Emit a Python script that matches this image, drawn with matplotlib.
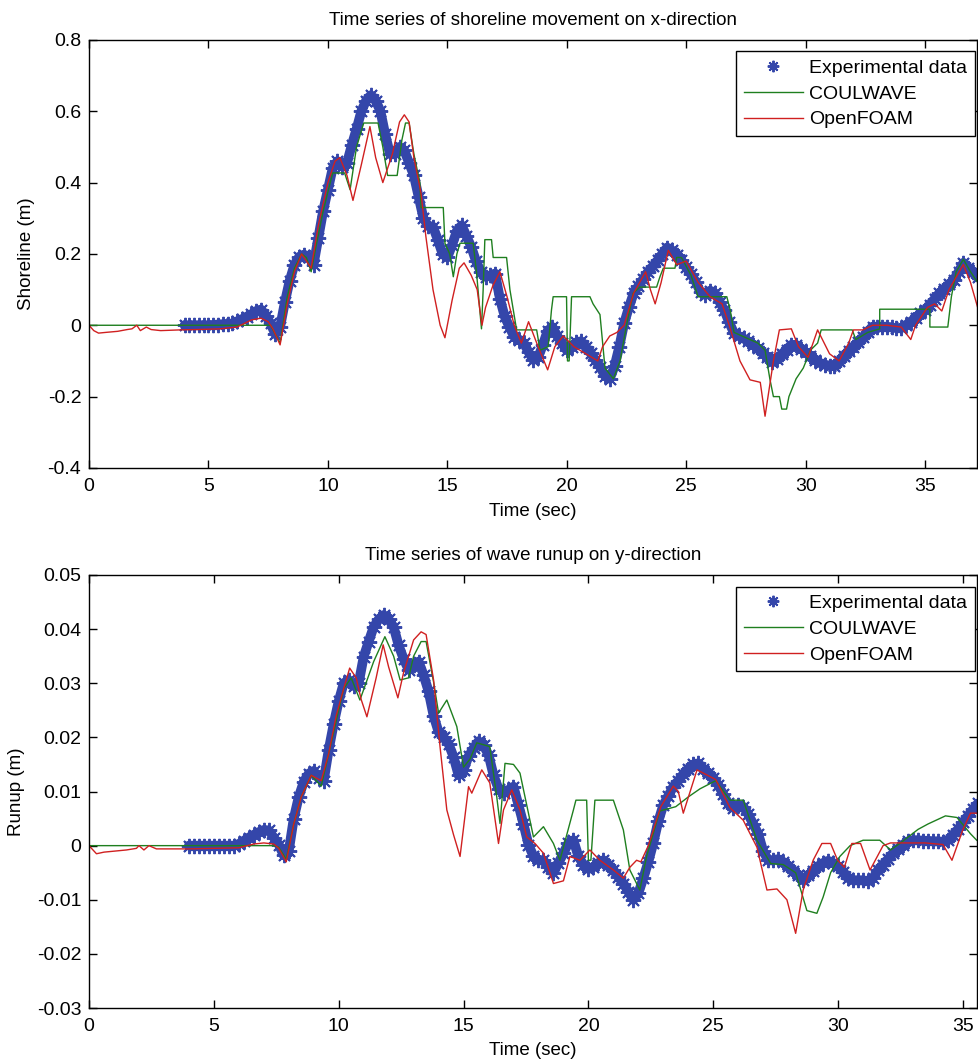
import numpy as np
import matplotlib
matplotlib.use('Agg')
import matplotlib.pyplot as plt

plt.rcParams['font.family'] = ['Liberation Sans', 'DejaVu Sans']

# ---------------- shoreline (x-direction) ----------------
exp_t_x = np.round(np.arange(4.0, 37.21, 0.2), 2)
exp_x = [
    0.000, 0.000, 0.000, 0.000, 0.000, 0.000, 0.001, 0.002, 0.003, 0.004,
    0.005, 0.011, 0.017, 0.024, 0.031, 0.040, 0.044, 0.027, 0.005, -0.025,
    -0.005, 0.065, 0.125, 0.170, 0.192, 0.198, 0.190, 0.170, 0.245, 0.320,
    0.380, 0.440, 0.460, 0.445, 0.455, 0.505, 0.550, 0.600, 0.630, 0.645,
    0.630, 0.600, 0.535, 0.480, 0.480, 0.500, 0.490, 0.455, 0.420, 0.360,
    0.300, 0.278, 0.276, 0.240, 0.200, 0.190, 0.225, 0.265, 0.280, 0.250,
    0.220, 0.180, 0.150, 0.136, 0.140, 0.145, 0.075, 0.025, -0.005, -0.032,
    -0.040, -0.050, -0.075, -0.097, -0.090, -0.055, -0.015, -0.005, -0.030, -0.050,
    -0.070, -0.060, -0.048, -0.045, -0.062, -0.078, -0.098, -0.117, -0.142, -0.150,
    -0.115, -0.060, 0.005, 0.050, 0.090, 0.110, 0.130, 0.150, 0.165, 0.182,
    0.200, 0.218, 0.210, 0.197, 0.182, 0.162, 0.143, 0.122, 0.092, 0.085,
    0.097, 0.090, 0.065, 0.042, 0.008, -0.022, -0.030, -0.037, -0.045, -0.055,
    -0.065, -0.077, -0.090, -0.104, -0.095, -0.081, -0.068, -0.055, -0.055, -0.066,
    -0.076, -0.085, -0.096, -0.106, -0.110, -0.114, -0.115, -0.100, -0.085, -0.072,
    -0.060, -0.047, -0.033, -0.018, -0.004, -0.004, -0.004, -0.004, -0.006, -0.008,
    -0.008, 0.001, 0.010, 0.021, 0.033, 0.044, 0.058, 0.074, 0.090, 0.102,
    0.115, 0.127, 0.150, 0.175, 0.160, 0.148, 0.136,
]

coul_t_x = [0, 7.4, 7.6, 8.0, 8.3, 8.6, 8.9, 9.1, 9.3, 9.5, 9.8, 10.2, 10.7, 10.93,
            11.2, 11.5, 12.1, 12.3, 12.5, 12.9, 13.1, 13.25, 13.4, 13.6, 13.85, 13.9,
            14.83, 14.9, 15.1, 15.25, 15.4, 15.53, 16.08, 16.22, 16.35, 16.43, 16.5,
            16.57, 16.85, 16.92, 17.48, 17.62, 17.9, 18.74, 18.88, 19.22, 19.36, 19.43,
            19.99, 20.03, 20.1, 20.2, 20.97, 21.1, 21.39, 21.6, 21.95, 22.23, 22.5,
            22.78, 23.06, 23.76, 23.9, 24.04, 24.53, 24.6, 24.8, 25.2, 25.5, 26.7,
            26.85, 27.0, 27.5, 28.0, 28.3, 28.5, 28.65, 28.9, 29.0, 29.2, 29.3, 29.6,
            29.9, 30.2, 30.5, 30.65, 31.95, 32.1, 32.6, 33.1, 33.1, 35.2, 35.2, 35.95,
            36.1, 36.3, 36.6, 36.9, 37.2]
coul_x = [0, 0, 0, -0.05, 0.08, 0.16, 0.2, 0.19, 0.15, 0.22, 0.32, 0.427, 0.427, 0.38,
          0.5, 0.567, 0.567, 0.5, 0.42, 0.42, 0.52, 0.567, 0.567, 0.48, 0.4, 0.33,
          0.33, 0.23, 0.2, 0.136, 0.2, 0.23, 0.23, 0.15, 0.05, -0.01, 0.1,
          0.24, 0.24, 0.19, 0.19, 0.1, -0.013, -0.013, -0.07, -0.06, 0.043, 0.08,
          0.08, -0.1, -0.1, 0.08, 0.08, 0.06, 0.03, -0.12, -0.15, -0.1, 0.0,
          0.09, 0.107, 0.107, 0.136, 0.16, 0.16, 0.19, 0.19, 0.14, 0.08, 0.08,
          0.04, -0.02, -0.035, -0.05, -0.07, -0.15, -0.2, -0.2, -0.235, -0.235, -0.2, -0.15,
          -0.12, -0.07, -0.05, -0.013, -0.013, -0.04, -0.02, -0.01, 0.045, 0.045, -0.005, -0.005,
          0.08, 0.15, 0.185, 0.15, 0.12]

foam_t_x = [0, 0.2, 0.4, 0.7, 1.2, 1.6, 1.8, 2.0, 2.15, 2.4, 2.6, 3.0, 3.8, 4.5, 5.5,
            6.2, 6.8, 7.2, 7.5, 7.7, 8.0, 8.3, 8.6, 8.9, 9.3, 9.6, 10.0, 10.3, 10.5,
            10.8, 11.05, 11.4, 11.76, 12.0, 12.3, 12.7, 13.0, 13.2, 13.4, 13.6, 13.9,
            14.1, 14.4, 14.7, 14.9, 15.2, 15.5, 15.7, 16.0, 16.25, 16.45, 16.6, 16.9,
            17.2, 17.5, 17.8, 18.1, 18.4, 18.8, 19.2, 19.5, 19.85, 20.3, 20.8, 21.3,
            21.5, 21.8, 22.1, 22.4, 22.8, 23.3, 23.5, 23.7, 23.95, 24.25, 24.6, 25.0,
            25.5, 26.0, 26.5, 26.8, 27.25, 27.67, 28.1, 28.3, 28.65, 28.9, 29.4, 29.7,
            30.1, 30.5, 31.0, 31.4, 31.8, 32.0, 32.4, 32.8, 33.4, 34.0, 34.4, 34.6,
            35.1, 35.4, 35.7, 36.0, 36.6, 36.9, 37.2]
foam_x = [0, -0.015, -0.022, -0.02, -0.017, -0.012, -0.01, 0.0, -0.015, -0.005, -0.012,
          -0.015, -0.013, -0.012, -0.01, -0.005, 0.015, 0.02, 0.01, -0.01, -0.055, 0.06,
          0.15, 0.2, 0.16, 0.28, 0.4, 0.46, 0.47, 0.42, 0.35, 0.45, 0.557, 0.47, 0.40,
          0.48, 0.57, 0.59, 0.57, 0.47, 0.37, 0.25, 0.1, 0.0, -0.035, 0.07, 0.16, 0.175,
          0.14, 0.1, 0.0, 0.05, 0.11, 0.15, 0.08, 0.0, -0.05, 0.01, -0.06, -0.125,
          -0.06, -0.03, -0.06, -0.08, -0.1, -0.06, -0.03, -0.02, 0.0, 0.09, 0.15, 0.1,
          0.06, 0.12, 0.21, 0.17, 0.18, 0.12, 0.08, 0.06, 0.0, -0.1, -0.153, -0.16,
          -0.255, -0.1, -0.013, -0.01, -0.06, -0.09, -0.013, -0.08, -0.1, -0.05, -0.013,
          -0.013, 0.0, 0.0, -0.005, -0.04, 0.0, 0.05, 0.06, 0.04, 0.1, 0.17, 0.12, 0.05]

# ---------------- runup (y-direction) ----------------
exp_t_y = np.round(np.arange(4.0, 35.61, 0.2), 2)
exp_y = [
    0.0000, 0.0000, 0.0000, 0.0000, 0.0000, 0.0000, 0.0000, 0.0000, 0.0000, 0.0000,
    0.0003, 0.0009, 0.0015, 0.0020, 0.0025, 0.0029, 0.0028, 0.0015, 0.0002, -0.0018,
    -0.0010, 0.0050, 0.0090, 0.0118, 0.0133, 0.0138, 0.0125, 0.0120, 0.0177, 0.0225,
    0.0267, 0.0300, 0.0306, 0.0295, 0.0300, 0.0349, 0.0377, 0.0404, 0.0418, 0.0426,
    0.0418, 0.0404, 0.0370, 0.0345, 0.0325, 0.0333, 0.0340, 0.0315, 0.0285, 0.0240,
    0.0210, 0.0200, 0.0188, 0.0164, 0.0130, 0.0140, 0.0165, 0.0180, 0.0193, 0.0185,
    0.0168, 0.0130, 0.0105, 0.0097, 0.0103, 0.0109, 0.0075, 0.0040, 0.0002, -0.0020,
    -0.0027, -0.0027, -0.0040, -0.0050, -0.0032, -0.0014, 0.0005, 0.0010, -0.0020, -0.0035,
    -0.0043, -0.0040, -0.0032, -0.0027, -0.0036, -0.0045, -0.0058, -0.0070, -0.0085, -0.0100,
    -0.0088, -0.0060, -0.0030, 0.0005, 0.0045, 0.0075, 0.0092, 0.0109, 0.0120, 0.0132,
    0.0142, 0.0150, 0.0152, 0.0142, 0.0134, 0.0125, 0.0112, 0.0095, 0.0078, 0.0070,
    0.0075, 0.0072, 0.0058, 0.0040, 0.0022, -0.0010, -0.0027, -0.0027, -0.0025, -0.0030,
    -0.0038, -0.0046, -0.0055, -0.0064, -0.0055, -0.0046, -0.0038, -0.0032, -0.0028, -0.0032,
    -0.0038, -0.0048, -0.0060, -0.0064, -0.0064, -0.0064, -0.0066, -0.0060, -0.0045, -0.0035,
    -0.0025, -0.0014, -0.0006, 0.0002, 0.0008, 0.0010, 0.0010, 0.0009, 0.0009, 0.0008,
    0.0008, 0.0007, 0.0010, 0.0020, 0.0030, 0.0043, 0.0055, 0.0067, 0.0078,
]

coul_t_y = [0, 7.4, 7.6, 7.9, 8.2, 8.5, 8.9, 9.3, 9.6, 10.2, 10.5, 10.85, 11.4, 11.85,
            12.2, 12.46, 12.8, 13.0, 13.3, 13.5, 13.8, 14.0, 14.33, 14.73, 15.0, 15.26,
            15.53, 16.05, 16.33, 16.46, 16.66, 17.0, 17.26, 17.8, 18.2, 18.6, 18.86,
            19.4, 19.5, 19.93, 20.0, 20.1, 20.26, 21.0, 21.4, 21.66, 22.06, 22.33, 22.86,
            23.5, 24.0, 24.47, 25.1, 25.67, 26.2, 26.75, 27.3, 27.8, 28.3, 28.75, 29.15,
            29.4, 29.7, 30.07, 30.48, 31.0, 31.67, 32.1, 32.5, 33.2, 33.6, 34.3, 34.76,
            35.3, 35.55]
coul_y = [0, 0, -0.0003, -0.0025, 0.004, 0.009, 0.013, 0.011, 0.017, 0.029, 0.031, 0.0269,
          0.034, 0.0386, 0.035, 0.0306, 0.031, 0.035, 0.0377, 0.0377, 0.0302, 0.0245,
          0.0269, 0.022, 0.0145, 0.016, 0.019, 0.0183, 0.009, 0.0041, 0.0152, 0.015,
          0.0134, 0.0016, 0.0035, 0.0004, -0.0027, 0.0066, 0.0084, 0.0084, -0.0027,
          -0.0027, 0.0084, 0.0084, 0.0029, -0.0045, -0.0082, -0.002, 0.0064, 0.0072,
          0.009, 0.0105, 0.012, 0.0084, 0.0084, 0.001, -0.0033, -0.0035, -0.005, -0.012,
          -0.0125, -0.0095, -0.005, -0.002, 0.0, 0.001, 0.001, -0.0008, 0.0005, 0.003,
          0.004, 0.0055, 0.0052, 0.0022, 0.001]

foam_t_y = [0, 0.3, 0.6, 1.5, 1.9, 2.0, 2.2, 2.4, 2.7, 4.0, 6.0, 6.6, 7.0, 7.4, 7.6, 7.9,
            8.2, 8.5, 8.9, 9.3, 9.6, 9.9, 10.2, 10.44, 10.7, 10.9, 11.13, 11.5, 11.78,
            12.0, 12.37, 12.6, 13.0, 13.3, 13.5, 13.8, 14.06, 14.33, 14.6, 14.86, 15.2,
            15.33, 15.73, 16.05, 16.4, 16.6, 16.93, 17.26, 17.53, 17.86, 18.2, 18.6, 19.0,
            19.26, 19.66, 20.06, 20.46, 21.0, 21.4, 21.66, 21.93, 22.1, 22.4, 22.9, 23.4,
            23.6, 23.8, 24.35, 25.1, 25.67, 26.2, 26.75, 27.15, 27.55, 27.95, 28.3, 28.6,
            29.0, 29.35, 29.7, 29.98, 30.25, 30.55, 30.9, 31.28, 31.8, 32.1, 33.5, 34.2,
            34.56, 35.0, 35.3, 35.6]
foam_y = [0, -0.0015, -0.0012, -0.0008, -0.0005, 0.0, -0.0008, 0.0, -0.0006, -0.0006,
          -0.0004, 0.0003, 0.0005, 0.0003, -0.0005, -0.003, 0.004, 0.009, 0.013, 0.012,
          0.017, 0.024, 0.029, 0.0328, 0.031, 0.027, 0.0238, 0.031, 0.0371, 0.033, 0.0273,
          0.032, 0.038, 0.0395, 0.039, 0.0306, 0.0182, 0.0066, 0.002, -0.002, 0.0109,
          0.0097, 0.014, 0.0116, 0.0004, 0.0066, 0.0103, 0.0066, 0.0016, 0.0004, -0.0014,
          -0.007, -0.0065, -0.002, -0.0027, -0.0008, -0.0027, -0.0045, -0.006, -0.004,
          -0.0027, -0.003, 0.0, 0.0072, 0.011, 0.01, 0.006, 0.014, 0.0122, 0.007, 0.0047,
          -0.0003, -0.0082, -0.008, -0.01, -0.0162, -0.0082, -0.0027, 0.0004, 0.0004,
          -0.0027, -0.004, 0.0004, 0.0004, -0.0045, 0.0, 0.0005, 0.0005, 0.0002, -0.0027,
          0.003, 0.006, 0.006]

exp_color = '#3446aa'
coul_color = '#1f7f1f'
foam_color = '#d02020'
asterisk = (8, 2, 0)


def draw_panel(ax, t_exp, v_exp, t_c, v_c, t_f, v_f, title, ylabel, xmax,
               ylim, yticks, yticklabels, ylabel_x, xlabel_y):
    # thick band under the asterisks so the dense record reads as one trace
    ax.plot(t_exp, v_exp, color=exp_color, linewidth=7, solid_joinstyle='round',
            solid_capstyle='round', label='_nolegend_')
    ax.plot(t_exp, v_exp, linestyle='none', marker=asterisk, markersize=11,
            markeredgewidth=1.4, color=exp_color, label='Experimental data')
    ax.plot(t_c, v_c, color=coul_color, linewidth=1.0, label='COULWAVE')
    ax.plot(t_f, v_f, color=foam_color, linewidth=1.0, label='OpenFOAM')
    ax.set_xlim(0, xmax)
    ax.set_ylim(*ylim)
    ax.set_xticks(range(0, 40, 5))
    ax.set_yticks(yticks)
    ax.set_yticklabels(yticklabels)
    ax.tick_params(direction='in', top=True, right=True, length=6, width=1,
                   labelsize=14, pad=5.5)
    ax.tick_params(axis='x', pad=7)
    for s in ax.spines.values():
        s.set_linewidth(1.0)
    ax.set_title(title, fontsize=13.5, pad=10.5)
    ax.set_xlabel('Time (sec)', fontsize=13.5)
    ax.set_ylabel(ylabel, fontsize=13.5)
    ax.yaxis.set_label_coords(ylabel_x, 0.5)
    ax.xaxis.set_label_coords(0.5, xlabel_y)

    leg = ax.legend(loc='upper right', bbox_to_anchor=(0.998, 0.973), borderaxespad=0,
                    fontsize=14, fancybox=False, framealpha=1, edgecolor='black',
                    handlelength=3.0, handletextpad=0.35, borderpad=0.4,
                    labelspacing=0.42, markerscale=0.75)
    leg.get_frame().set_linewidth(1.0)


fig = plt.figure(figsize=(9.79, 10.64), dpi=100)
ax1 = fig.add_axes([0.0909, 0.5602, 0.907, 0.4023])
ax2 = fig.add_axes([0.0909, 0.0526, 0.907, 0.4070])

draw_panel(ax1, exp_t_x, exp_x, coul_t_x, coul_x, foam_t_x, foam_x,
           'Time series of shoreline movement on x-direction', 'Shoreline (m)',
           37.17, (-0.4, 0.8), [-0.4, -0.2, 0, 0.2, 0.4, 0.6, 0.8],
           ['-0.4', '-0.2', '0', '0.2', '0.4', '0.6', '0.8'], -0.061, -0.082)
draw_panel(ax2, exp_t_y, exp_y, coul_t_y, coul_y, foam_t_y, foam_y,
           'Time series of wave runup on y-direction', 'Runup (m)',
           35.56, (-0.03, 0.05), [-0.03, -0.02, -0.01, 0, 0.01, 0.02, 0.03, 0.04, 0.05],
           ['-0.03', '-0.02', '-0.01', '0', '0.01', '0.02', '0.03', '0.04', '0.05'],
           -0.072, -0.079)

fig.savefig('out.png', dpi=100)
